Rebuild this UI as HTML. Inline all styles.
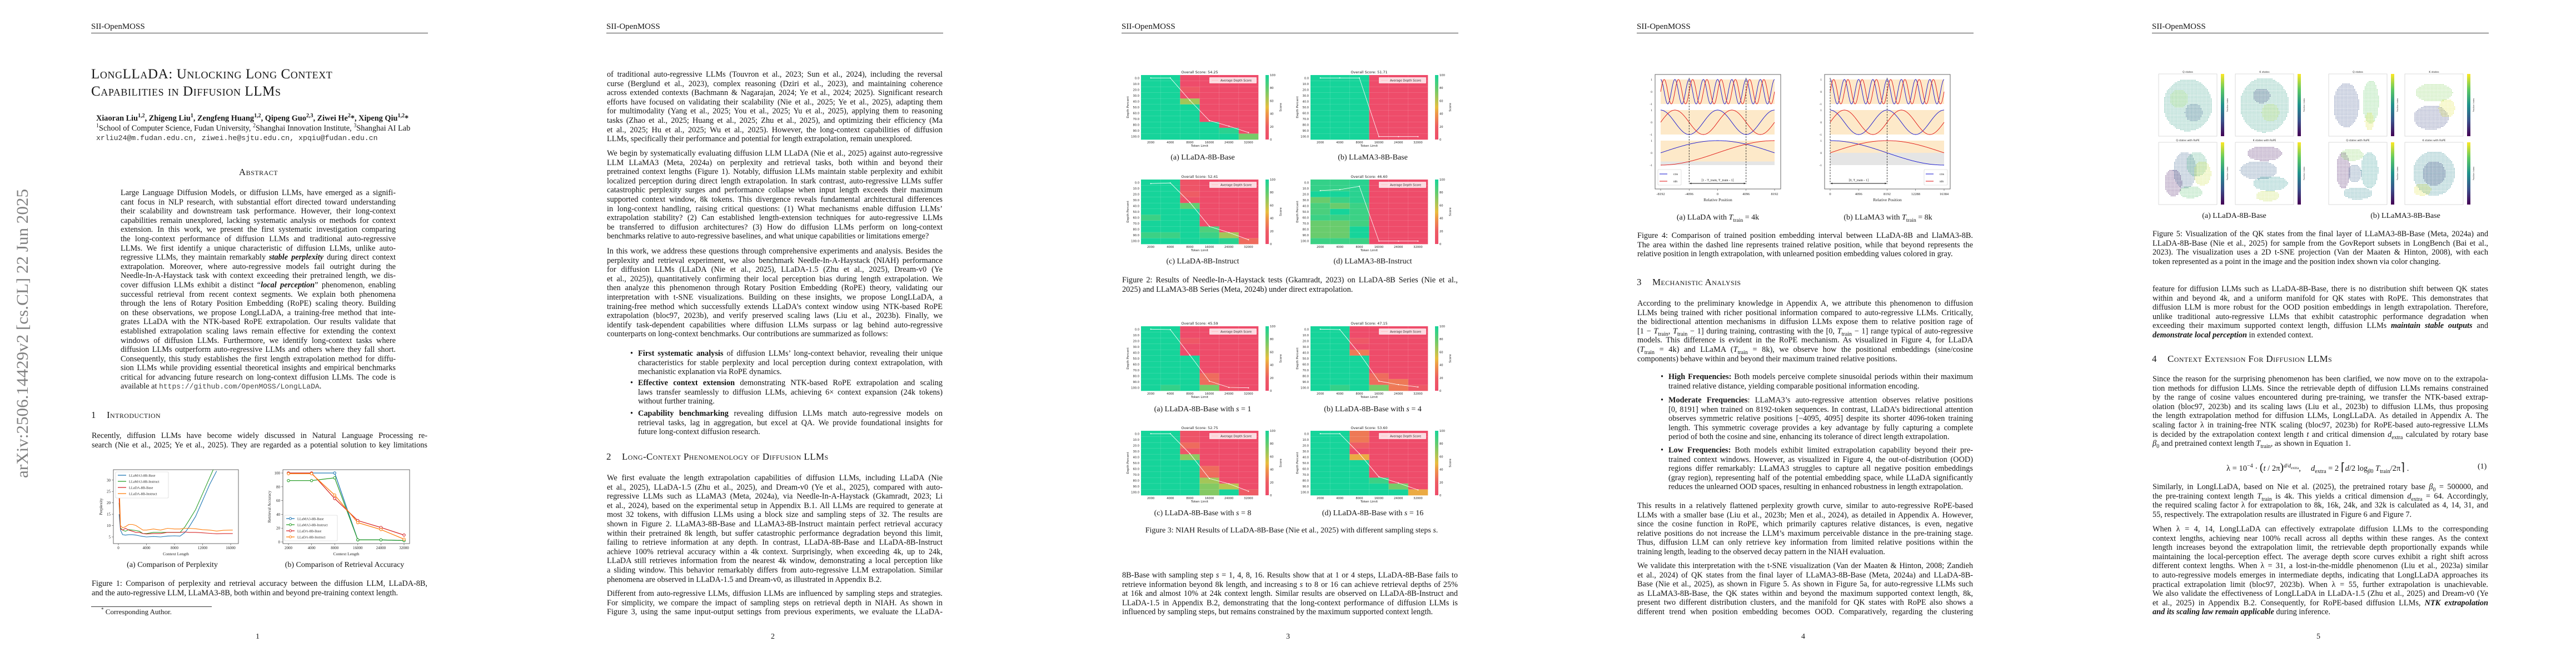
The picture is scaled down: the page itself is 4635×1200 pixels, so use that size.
<!DOCTYPE html>
<html><head><meta charset="utf-8">
<style>
body{margin:0;width:4635px;height:1200px;background:#fff;overflow:hidden;position:relative;font-family:"Liberation Serif",serif;color:#151515}
.pg{position:absolute;top:0;width:927px;height:1200px}
.hd{position:absolute;left:164px;top:40px;font-size:15px}
.rule{position:absolute;left:164px;top:59px;width:606px;height:1px;background:#444}
.pn{position:absolute;left:0;width:927px;top:1138px;text-align:center;font-size:14px}
.p{position:absolute;left:165px;width:604px;font-size:14.3px;line-height:16.6px}
.p div{height:16.6px;overflow:hidden;white-space:nowrap;text-align:justify;text-align-last:justify}
.p div.e{text-align-last:left}
.h{position:absolute;left:164px;font-size:17px;font-variant:small-caps;letter-spacing:.4px}
.h span{display:inline-block;width:28px}
.cap{position:absolute;font-size:14px;white-space:nowrap;transform:translateX(-50%)}
sub,sup{font-size:70%;line-height:0}
.b{font-weight:bold}
</style></head><body>
<svg id="charts" width="4635" height="1200" style="position:absolute;left:0;top:0" xmlns="http://www.w3.org/2000/svg">
<text transform="translate(50,600) rotate(-90)" text-anchor="middle" font-family="Liberation Serif, serif" font-size="30" fill="#808080" textLength="520" lengthAdjust="spacingAndGlyphs">arXiv:2506.14429v2  [cs.CL]  22 Jun 2025</text>
</svg>

<!-- PAGE 1 -->
<div class="pg" style="left:0">
<div class="hd">SII-OpenMOSS</div><div class="rule"></div>
<div style="position:absolute;left:164px;top:118px;font-size:25px;line-height:31px;font-variant:small-caps;letter-spacing:.6px">LongLLaDA: Unlocking Long Context<br>Capabilities in Diffusion LLMs</div>
<div class="b" style="position:absolute;left:173px;top:205px;font-size:14.3px;white-space:nowrap">Xiaoran Liu<sup>1,2</sup>, Zhigeng Liu<sup>1</sup>, Zengfeng Huang<sup>1,2</sup>, Qipeng Guo<sup>2,3</sup>, Ziwei He<sup>2</sup>*, Xipeng Qiu<sup>1,2</sup>*</div>
<div style="position:absolute;left:173px;top:223px;font-size:14.3px;white-space:nowrap"><sup>1</sup>School of Computer Science, Fudan University, <sup>2</sup>Shanghai Innovation Institute, <sup>3</sup>Shanghai AI Lab</div>
<div style="position:absolute;left:173px;top:241px;font-size:13.2px;font-family:'Liberation Mono',monospace;color:#333;white-space:nowrap">xrliu24@m.fudan.edu.cn, ziwei.he@sjtu.edu.cn, xpqiu@fudan.edu.cn</div>
<div style="position:absolute;left:0;width:930px;text-align:center;top:300px;font-size:17px;font-variant:small-caps;letter-spacing:.5px">Abstract</div>
<div class="p" style="left:217px;width:495px;top:339px">
<div>Large Language Diffusion Models, or diffusion LLMs, have emerged as a signifi-</div>
<div>cant focus in NLP research, with substantial effort directed toward understanding</div>
<div>their scalability and downstream task performance. However, their long-context</div>
<div>capabilities remain unexplored, lacking systematic analysis or methods for context</div>
<div>extension. In this work, we present the first systematic investigation comparing</div>
<div>the long-context performance of diffusion LLMs and traditional auto-regressive</div>
<div>LLMs. We first identify a unique characteristic of diffusion LLMs, unlike auto-</div>
<div>regressive LLMs, they maintain remarkably <b><i>stable perplexity</i></b> during direct context</div>
<div>extrapolation. Moreover, where auto-regressive models fail outright during the</div>
<div>Needle-In-A-Haystack task with context exceeding their pretrained length, we dis-</div>
<div>cover diffusion LLMs exhibit a distinct “<b><i>local perception</i></b>” phenomenon, enabling</div>
<div>successful retrieval from recent context segments. We explain both phenomena</div>
<div>through the lens of Rotary Position Embedding (RoPE) scaling theory. Building</div>
<div>on these observations, we propose LongLLaDA, a training-free method that inte-</div>
<div>grates LLaDA with the NTK-based RoPE extrapolation. Our results validate that</div>
<div>established extrapolation scaling laws remain effective for extending the context</div>
<div>windows of diffusion LLMs. Furthermore, we identify long-context tasks where</div>
<div>diffusion LLMs outperform auto-regressive LLMs and others where they fall short.</div>
<div>Consequently, this study establishes the first length extrapolation method for diffu-</div>
<div>sion LLMs while providing essential theoretical insights and empirical benchmarks</div>
<div>critical for advancing future research on long-context diffusion LLMs. The code is</div>
<div class="e">available at <span style="font-family:'Liberation Mono',monospace;font-size:13px;color:#444">https://github.com/OpenMOSS/LongLLaDA</span>.</div>
</div>
<div class="h" style="top:737px"><span>1</span>Introduction</div>
<div class="p" style="top:776px">
<div>Recently, diffusion LLMs have become widely discussed in Natural Language Processing re-</div>
<div>search (Nie et al., 2025; Ye et al., 2025). They are regarded as a potential solution to key limitations</div>
</div>
<div class="cap" style="left:310px;top:1009px">(a) Comparison of Perplexity</div>
<div class="cap" style="left:620px;top:1009px">(b) Comparison of Retrieval Accuracy</div>
<div class="p" style="top:1042px">
<div>Figure 1: Comparison of perplexity and retrieval accuracy between the diffusion LLM, LLaDA-8B,</div>
<div class="e">and the auto-regressive LLM, LLaMA3-8B, both within and beyond pre-training context length.</div>
</div>
<div style="position:absolute;left:164px;top:1091px;width:217px;height:1px;background:#333"></div>
<div style="position:absolute;left:182px;top:1093px;font-size:13px"><sup>*</sup> Corresponding Author.</div>
<div class="pn">1</div>
</div>

<!-- PAGE 2 -->
<div class="pg" style="left:927px">
<div class="hd">SII-OpenMOSS</div><div class="rule"></div>
<div class="p" style="top:126px">
<div>of traditional auto-regressive LLMs (Touvron et al., 2023; Sun et al., 2024), including the reversal</div>
<div>curse (Berglund et al., 2023), complex reasoning (Dziri et al., 2023), and maintaining coherence</div>
<div>across extended contexts (Bachmann &amp; Nagarajan, 2024; Ye et al., 2024; 2025). Significant research</div>
<div>efforts have focused on validating their scalability (Nie et al., 2025; Ye et al., 2025), adapting them</div>
<div>for multimodality (Yang et al., 2025; You et al., 2025; Yu et al., 2025), applying them to reasoning</div>
<div>tasks (Zhao et al., 2025; Huang et al., 2025; Zhu et al., 2025), and optimizing their efficiency (Ma</div>
<div>et al., 2025; Hu et al., 2025; Wu et al., 2025). However, the long-context capabilities of diffusion</div>
<div class="e">LLMs, specifically their performance and potential for length extrapolation, remain unexplored.</div>
</div>
<div class="p" style="top:268px">
<div>We begin by systematically evaluating diffusion LLM LLaDA (Nie et al., 2025) against auto-regressive</div>
<div>LLM LLaMA3 (Meta, 2024a) on perplexity and retrieval tasks, both within and beyond their</div>
<div>pretrained context lengths (Figure 1). Notably, diffusion LLMs maintain stable perplexity and exhibit</div>
<div>localized perception during direct length extrapolation. In stark contrast, auto-regressive LLMs suffer</div>
<div>catastrophic perplexity surges and performance collapse when input length exceeds their maximum</div>
<div>supported context window, 8k tokens. This divergence reveals fundamental architectural differences</div>
<div>in long-context handling, raising critical questions: (1) What mechanisms enable diffusion LLMs’</div>
<div>extrapolation stability? (2) Can established length-extension techniques for auto-regressive LLMs</div>
<div>be transferred to diffusion architectures? (3) How do diffusion LLMs perform on long-context</div>
<div class="e">benchmarks relative to auto-regressive baselines, and what unique capabilities or limitations emerge?</div>
</div>
<div class="p" style="top:444px">
<div>In this work, we address these questions through comprehensive experiments and analysis. Besides the</div>
<div>perplexity and retrieval experiment, we also benchmark Needle-In-A-Haystack (NIAH) performance</div>
<div>for diffusion LLMs (LLaDA (Nie et al., 2025), LLaDA-1.5 (Zhu et al., 2025), Dream-v0 (Ye</div>
<div>et al., 2025)), quantitatively confirming their local perception bias during length extrapolation. We</div>
<div>then analyze this phenomenon through Rotary Position Embedding (RoPE) theory, validating our</div>
<div>interpretation with t-SNE visualizations. Building on these insights, we propose LongLLaDA, a</div>
<div>training-free method which successfully extends LLaDA’s context window using NTK-based RoPE</div>
<div>extrapolation (bloc97, 2023b), and verify preserved scaling laws (Liu et al., 2023b). Finally, we</div>
<div>identify task-dependent capabilities where diffusion LLMs surpass or lag behind auto-regressive</div>
<div class="e">counterparts on long-context benchmarks. Our contributions are summarized as follows:</div>
</div>
<div class="p" style="left:221px;width:548px;top:628px">
<div><span style="position:absolute;margin-left:-14px">•</span><b>First systematic analysis</b> of diffusion LLMs’ long-context behavior, revealing their unique</div>
<div>characteristics for stable perplexity and local perception during context extrapolation, with</div>
<div class="e">mechanistic explanation via RoPE dynamics.</div>
</div>
<div class="p" style="left:221px;width:548px;top:681px">
<div><span style="position:absolute;margin-left:-14px">•</span><b>Effective context extension</b> demonstrating NTK-based RoPE extrapolation and scaling</div>
<div>laws transfer seamlessly to diffusion LLMs, achieving 6× context expansion (24k tokens)</div>
<div class="e">without further training.</div>
</div>
<div class="p" style="left:221px;width:548px;top:736px">
<div><span style="position:absolute;margin-left:-14px">•</span><b>Capability benchmarking</b> revealing diffusion LLMs match auto-regressive models on</div>
<div>retrieval tasks, lag in aggregation, but excel at QA. We provide foundational insights for</div>
<div class="e">future long-context diffusion research.</div>
</div>
<div class="h" style="top:812px"><span>2</span>Long-Context Phenomenology of Diffusion LLMs</div>
<div class="p" style="top:852px">
<div>We first evaluate the length extrapolation capabilities of diffusion LLMs, including LLaDA (Nie</div>
<div>et al., 2025), LLaDA-1.5 (Zhu et al., 2025), and Dream-v0 (Ye et al., 2025), compared with auto-</div>
<div>regressive LLMs such as LLaMA3 (Meta, 2024a), via Needle-In-A-Haystack (Gkamradt, 2023; Li</div>
<div>et al., 2024), based on the experimental setup in Appendix B.1. All LLMs are required to generate at</div>
<div>most 32 tokens, with diffusion LLMs using a block size and sampling steps of 32. The results are</div>
<div>shown in Figure 2. LLaMA3-8B-Base and LLaMA3-8B-Instruct maintain perfect retrieval accuracy</div>
<div>within their pretrained 8k length, but suffer catastrophic performance degradation beyond this limit,</div>
<div>failing to retrieve information at any depth. In contrast, LLaDA-8B-Base and LLaDA-8B-Instruct</div>
<div>achieve 100% retrieval accuracy within a 4k context. Surprisingly, when exceeding 4k, up to 24k,</div>
<div>LLaDA still retrieves information from the nearest 4k window, demonstrating a local perception like</div>
<div>a sliding window. This behavior remarkably differs from auto-regressive LLM extrapolation. Similar</div>
<div class="e">phenomena are observed in LLaDA-1.5 and Dream-v0, as illustrated in Appendix B.2.</div>
</div>
<div class="p" style="top:1060px">
<div>Different from auto-regressive LLMs, diffusion LLMs are influenced by sampling steps and strategies.</div>
<div>For simplicity, we compare the impact of sampling steps on retrieval depth in NIAH. As shown in</div>
<div>Figure 3, using the same input-output settings from previous experiments, we evaluate the LLaDA-</div>
</div>
<div class="pn">2</div>
</div>

<!-- PAGE 3 -->
<div class="pg" style="left:1854px">
<div class="hd">SII-OpenMOSS</div><div class="rule"></div>
<div class="cap" style="left:310px;top:276px">(a) LLaDA-8B-Base</div>
<div class="cap" style="left:616px;top:276px">(b) LLaMA3-8B-Base</div>
<div class="cap" style="left:310px;top:463px">(c) LLaDA-8B-Instruct</div>
<div class="cap" style="left:616px;top:463px">(d) LLaMA3-8B-Instruct</div>
<div class="p" style="top:496px">
<div>Figure 2: Results of Needle-In-A-Haystack tests (Gkamradt, 2023) on LLaDA-8B Series (Nie et al.,</div>
<div class="e">2025) and LLaMA3-8B Series (Meta, 2024b) under direct extrapolation.</div>
</div>
<div class="cap" style="left:310px;top:729px">(a) LLaDA-8B-Base with <i>s</i> = 1</div>
<div class="cap" style="left:616px;top:729px">(b) LLaDA-8B-Base with <i>s</i> = 4</div>
<div class="cap" style="left:310px;top:916px">(c) LLaDA-8B-Base with <i>s</i> = 8</div>
<div class="cap" style="left:616px;top:916px">(d) LLaDA-8B-Base with <i>s</i> = 16</div>
<div class="cap" style="left:470px;top:947px">Figure 3: NIAH Results of LLaDA-8B-Base (Nie et al., 2025) with different sampling steps <i>s</i>.</div>
<div class="p" style="top:1027px">
<div>8B-Base with sampling step <i>s</i> = 1, 4, 8, 16. Results show that at 1 or 4 steps, LLaDA-8B-Base fails to</div>
<div>retrieve information beyond 8k length, and increasing <i>s</i> to 8 or 16 can achieve retrieval depths of 25%</div>
<div>at 16k and almost 10% at 24k context length. Similar results are observed on LLaDA-8B-Instruct and</div>
<div>LLaDA-1.5 in Appendix B.2, demonstrating that the long-context performance of diffusion LLMs is</div>
<div class="e">influenced by sampling steps, but remains constrained by the maximum supported context length.</div>
</div>
<div class="pn">3</div>
</div>

<!-- PAGE 4 -->
<div class="pg" style="left:2781px">
<div class="hd">SII-OpenMOSS</div><div class="rule"></div>
<div class="cap" style="left:310px;top:384px">(a) LLaDA with <i>T</i><sub>train</sub> = 4k</div>
<div class="cap" style="left:616px;top:384px">(b) LLaMA3 with <i>T</i><sub>train</sub> = 8k</div>
<div class="p" style="top:416px">
<div>Figure 4: Comparison of trained position embedding interval between LLaDA-8B and LlaMA3-8B.</div>
<div>The area within the dashed line represents trained relative position, while that beyond represents the</div>
<div class="e">relative position in length extrapolation, with unlearned position embedding values colored in gray.</div>
</div>
<div class="h" style="top:498px"><span>3</span>Mechanistic Analysis</div>
<div class="p" style="top:538px">
<div>According to the preliminary knowledge in Appendix A, we attribute this phenomenon to diffusion</div>
<div>LLMs being trained with richer positional information compared to auto-regressive LLMs. Critically,</div>
<div>the bidirectional attention mechanisms in diffusion LLMs expose them to relative position rage of</div>
<div>[1 − <i>T</i><sub>train</sub>, <i>T</i><sub>train</sub> − 1] during training, contrasting with the [0, <i>T</i><sub>train</sub> − 1] range typical of auto-regressive</div>
<div>models. This difference is evident in the RoPE mechanism. As visualized in Figure 4, for LLaDA</div>
<div>(<i>T</i><sub>train</sub> = 4k) and LLaMA (<i>T</i><sub>train</sub> = 8k), we observe how the positional embeddings (sine/cosine</div>
<div class="e">components) behave within and beyond their maximum trained relative positions.</div>
</div>
<div class="p" style="left:221px;width:548px;top:670px">
<div><span style="position:absolute;margin-left:-14px">•</span><b>High Frequencies:</b> Both models perceive complete sinusoidal periods within their maximum</div>
<div class="e">trained relative distance, yielding comparable positional information encoding.</div>
</div>
<div class="p" style="left:221px;width:548px;top:712px">
<div><span style="position:absolute;margin-left:-14px">•</span><b>Moderate Frequencies</b>: LLaMA3’s auto-regressive attention observes relative positions</div>
<div>[0, 8191] when trained on 8192-token sequences. In contrast, LLaDA’s bidirectional attention</div>
<div>observes symmetric relative positions [−4095, 4095] despite its shorter 4096-token training</div>
<div>length. This symmetric coverage provides a key advantage by fully capturing a complete</div>
<div class="e">period of both the cosine and sine, enhancing its tolerance of direct length extrapolation.</div>
</div>
<div class="p" style="left:221px;width:548px;top:802px">
<div><span style="position:absolute;margin-left:-14px">•</span><b>Low Frequencies:</b> Both models exhibit limited extrapolation capability beyond their pre-</div>
<div>trained context windows. However, as visualized in Figure 4, the out-of-distribution (OOD)</div>
<div>regions differ remarkably: LLaMA3 struggles to capture all negative position embeddings</div>
<div>(gray region), representing half of the potential embedding space, while LLaDA significantly</div>
<div class="e">reduces the unlearned OOD spaces, resulting in enhanced robustness in length extrapolation.</div>
</div>
<div class="p" style="top:902px">
<div>This results in a relatively flattened perplexity growth curve, similar to auto-regressive RoPE-based</div>
<div>LLMs with a smaller base (Liu et al., 2023b; Men et al., 2024), as detailed in Appendix A. However,</div>
<div>since the cosine function in RoPE, which primarily captures relative distances, is even, negative</div>
<div>relative positions do not increase the LLM’s maximum perceivable distance in the pre-training stage.</div>
<div>Thus, diffusion LLM can only retrieve key information from limited relative positions within the</div>
<div class="e">training length, leading to the observed decay pattern in the NIAH evaluation.</div>
</div>
<div class="p" style="top:1010px">
<div>We validate this interpretation with the t-SNE visualization (Van der Maaten &amp; Hinton, 2008; Zandieh</div>
<div>et al., 2024) of QK states from the final layer of LLaMA3-8B-Base (Meta, 2024a) and LLaDA-8B-</div>
<div>Base (Nie et al., 2025), as shown in Figure 5. As shown in Figure 5a, for auto-regressive LLMs such</div>
<div>as LLaMA3-8B-Base, the QK states within and beyond the maximum supported context length, 8k,</div>
<div>present two different distribution clusters, and the manifold for QK states with RoPE also shows a</div>
<div>different trend when position embedding becomes OOD. Comparatively, regarding the clustering</div>
</div>
<div class="pn">4</div>
</div>

<!-- PAGE 5 -->
<div class="pg" style="left:3708px">
<div class="hd">SII-OpenMOSS</div><div class="rule"></div>
<div class="cap" style="left:312px;top:381px">(a) LLaDA-8B-Base</div>
<div class="cap" style="left:620px;top:381px">(b) LLaMA3-8B-Base</div>
<div class="p" style="top:413px">
<div>Figure 5: Visualization of the QK states from the final layer of LLaMA3-8B-Base (Meta, 2024a) and</div>
<div>LLaDA-8B-Base (Nie et al., 2025) for sample from the GovReport subsets in LongBench (Bai et al.,</div>
<div>2023). The visualization uses a 2D t-SNE projection (Van der Maaten &amp; Hinton, 2008), with each</div>
<div class="e">token represented as a point in the image and the position index shown via color changing.</div>
</div>
<div class="p" style="top:512px">
<div>feature for diffusion LLMs such as LLaDA-8B-Base, there is no distribution shift between QK states</div>
<div>within and beyond 4k, and a uniform manifold for QK states with RoPE. This demonstrates that</div>
<div>diffusion LLM is more robust for the OOD position embeddings in length extrapolation. Therefore,</div>
<div>unlike traditional auto-regressive LLMs that exhibit catastrophic performance degradation when</div>
<div>exceeding their maximum supported context length, diffusion LLMs <b><i>maintain stable outputs</i></b> and</div>
<div class="e"><b><i>demonstrate local perception</i></b> in extended context.</div>
</div>
<div class="h" style="top:636px"><span>4</span>Context Extension For Diffusion LLMs</div>
<div class="p" style="top:674px">
<div>Since the reason for the surprising phenomenon has been clarified, we now move on to the extrapola-</div>
<div>tion methods for diffusion LLMs. Since the retrievable depth of diffusion LLMs remains constrained</div>
<div>by the range of cosine values encountered during pre-training, we transfer the NTK-based extrap-</div>
<div>olation (bloc97, 2023b) and its scaling laws (Liu et al., 2023b) to diffusion LLMs, thus proposing</div>
<div>the length extrapolation method for diffusion LLMs, LongLLaDA. As detailed in Appendix A. The</div>
<div>scaling factor λ in training-free NTK scaling (bloc97, 2023b) for RoPE-based auto-regressive LLMs</div>
<div>is decided by the extrapolation context length <i>t</i> and critical dimension <i>d</i><sub>extra</sub> calculated by rotary base</div>
<div class="e"><i>β</i><sub>0</sub> and pretrained context length <i>T</i><sub>train</sub>, as shown in Equation 1.</div>
</div>
<div style="position:absolute;left:298px;top:828px;font-size:14.5px;white-space:nowrap">λ = 10<sup>−4</sup> · <span style="font-size:20px">(</span><i>t</i> / 2π<span style="font-size:20px">)</span><sup><i>d</i>/<i>d</i><sub>extra</sub></sup>, &nbsp;&nbsp;&nbsp; <i>d</i><sub>extra</sub> = 2 <span style="font-size:20px">⌈</span><i>d</i>/2 log<sub><i>β</i>0</sub> <i>T</i><sub>train</sub>/2π<span style="font-size:20px">⌉</span> .</div>
<div style="position:absolute;left:750px;top:832px;font-size:14px">(1)</div>
<div class="p" style="top:868px">
<div>Similarly, in LongLLaDA, based on Nie et al. (2025), the pretrained rotary base <i>β</i><sub>0</sub> = 500000, and</div>
<div>the pre-training context length <i>T</i><sub>train</sub> is 4k. This yields a critical dimension <i>d</i><sub>extra</sub> = 64. Accordingly,</div>
<div>the required scaling factor λ for extrapolation to 8k, 16k, 24k, and 32k is calculated as 4, 14, 31, and</div>
<div class="e">55, respectively. The extrapolation results are illustrated in Figure 6 and Figure 7.</div>
</div>
<div class="p" style="top:944px">
<div>When λ = 4, 14, LongLLaDA can effectively extrapolate diffusion LLMs to the corresponding</div>
<div>context lengths, achieving near 100% recall across all depths within these ranges. As the context</div>
<div>length increases beyond the extrapolation limit, the retrievable depth proportionally expands while</div>
<div>maintaining the local-perception effect. The average depth score curves exhibit a right shift across</div>
<div>different context lengths. When λ = 31, a lost-in-the-middle phenomenon (Liu et al., 2023a) similar</div>
<div>to auto-regressive models emerges in intermediate depths, indicating that LongLLaDA approaches its</div>
<div>practical extrapolation limit (bloc97, 2023b). When λ = 55, further extrapolation is unachievable.</div>
<div>We also validate the effectiveness of LongLLaDA in LLaDA-1.5 (Zhu et al., 2025) and Dream-v0 (Ye</div>
<div>et al., 2025) in Appendix B.2. Consequently, for RoPE-based diffusion LLMs, <b><i>NTK extrapolation</i></b></div>
<div class="e"><b><i>and its scaling law remain applicable</i></b> during inference.</div>
</div>
<div class="pn">5</div>
</div>

<script>
// ---------- DATA ----------
const pplX = [100,300,600,1000,1500,2000,2500,3000,3500,4000,5000,6000,7000,8000,8800,9500,10000,11000,12000,13000,14000,15000,16000,16300];
const pplLlamaBase = [15,8,6,5.8,6,6,5.8,5.5,5.2,5,5.2,5,5.4,5.5,5.4,7,9,14,21,28,34,null,null,null];
const pplLlamaInstruct = [20,9,8,7.5,8.2,8,7.8,7.5,6.5,6.5,7,7,7,7,7,9.5,12,17,24,31,38,null,null,null];
const pplLladaBase = [22,8.5,8,8.8,8,7.5,7,7,6.5,6.3,6.5,6.5,7,7,7,7.2,7,7,6.8,6.6,6.4,6.5,6.5,6.5];
const pplLladaInstruct = [31,10,9,9.5,10.5,10.5,10,9,8,8,8.5,8,8.8,8.5,8.5,8.8,8.8,8.6,8.2,8,7.6,7.9,8,8];
const pplYTicks = [5,10,15,20,25,30];
const pplXTicks = [0,4000,8000,12000,16000];

const retCats = ['2000','4000','8000','16000','24000','32000'];
const retLlamaBase = [100,100,100,3,3,2];
const retLlamaInstruct = [89,89,93,3,3,2];
const retLladaBase = [100,100,63,31,21,10];
const retLladaInstruct = [99,99,68,28,18,4];
const retYTicks = [0,20,40,60,80,100];

const seriesNames = ['LLaMA3-8B-Base','LLaMA3-8B-Instruct','LLaDA-8B-Base','LLaDA-8B-Instruct'];

const hmCols = ['2000','4000','8000','16000','24000','32000'];
const hmRows = ['0.0','10.0','20.0','30.0','40.0','50.0','60.0','70.0','80.0','90.0','100.0'];
const hmScores = ['54.25','51.71','52.41','46.60','45.59','47.15','52.75','53.60'];
// each matrix: columns (token limit) of rows (depth 0..100)
const hmF2a = [[100,100,100,100,100,100,100,100,100,100,100],[100,100,100,100,100,100,100,100,100,100,100],[0,0,15,0,65,100,100,100,100,100,100],[0,0,0,0,0,0,0,0,100,100,100],[0,0,0,0,0,0,0,0,0,95,100],[0,0,0,0,0,0,0,0,0,0,75]];
const hmF2b = [[100,100,100,100,100,100,100,100,100,100,100],[100,100,100,100,100,100,100,100,100,100,100],[100,100,100,100,100,100,100,100,100,100,100],[0,0,0,0,0,0,0,0,0,0,0],[0,0,0,0,0,0,0,0,0,0,0],[0,0,0,0,0,0,0,0,0,0,0]];
const hmF2c = [[100,100,100,100,100,100,90,100,100,90,100],[100,100,100,100,100,100,100,100,100,90,100],[10,10,20,5,80,100,100,100,100,100,100],[0,0,0,0,0,0,0,0,85,90,100],[0,0,0,0,0,0,0,0,0,65,95],[0,0,0,0,0,0,0,0,0,0,25]];
const hmF2d = [[92,92,100,78,86,86,90,78,78,78,90],[92,92,100,90,78,100,90,78,78,78,90],[95,95,95,95,90,90,90,88,100,100,90],[0,0,0,0,0,0,0,0,0,0,0],[0,0,0,0,0,0,0,0,0,0,0],[0,0,0,0,0,0,0,0,0,0,0]];
const hmF3a = [[100,100,100,100,100,100,100,100,100,100,100],[100,100,100,100,100,100,100,100,100,100,92],[0,0,15,0,0,100,100,100,100,100,100],[0,0,0,0,0,0,0,0,25,25,75],[0,0,0,0,0,0,0,0,0,0,8],[0,0,0,0,0,0,0,0,0,0,0]];
const hmF3b = [[100,100,100,100,100,100,100,100,100,100,100],[100,100,100,100,100,100,100,100,100,100,92],[0,0,15,0,30,100,100,100,100,100,100],[0,0,0,0,0,0,0,0,25,25,75],[0,0,0,0,0,0,0,0,0,30,30],[0,0,0,0,0,0,0,0,0,0,15]];
const hmF3c = [[100,100,100,100,100,100,100,100,100,100,100],[100,100,100,100,100,100,100,100,100,100,100],[10,10,25,10,70,100,100,100,100,100,100],[0,0,0,0,0,0,25,25,65,72,72],[0,0,0,0,0,0,0,0,0,60,100],[0,0,0,0,0,0,0,0,0,0,20]];
const hmF3d = [[100,100,100,100,100,100,100,100,100,100,100],[100,100,100,100,100,100,100,100,100,100,100],[30,30,20,0,45,100,100,100,100,100,100],[0,0,0,0,0,0,0,0,90,100,100],[0,0,0,0,0,0,0,0,0,75,100],[0,0,0,0,0,0,0,0,0,0,45]];

const sinPeriods = [2048, 8192, 32768];
const sinLeftRange = [-8192, 8192];
const sinRightRange = [0, 16384];
const sinLeftTrain = [-4096, 4096];
const sinRightTrain = [0, 8192];
const sinLeftGrayTop = [null, null, -0.707];
const sinRightGrayTop = [null, null, 0];
const sinLeftTicks = [-8192,-4096,0,4096,8192];
const sinRightTicks = [0,4096,8192,12288,16384];

const tsneLladaQ = [[.5,.5,.42,.42,.55],[.35,.4,.16,.15,.8],[.6,.62,.15,.15,.3]];
const tsneLladaK = [[.5,.5,.42,.44,.55],[.45,.35,.15,.12,.2],[.6,.62,.15,.15,.85]];
const tsneLladaQRope = [[.25,.65,.15,.22,.05],[.45,.45,.2,.3,.3],[.65,.35,.18,.2,.6],[.75,.5,.15,.2,.92],[.55,.8,.2,.1,.7]];
const tsneLladaKRope = [[.5,.18,.3,.12,.05],[.4,.45,.32,.15,.3],[.6,.66,.3,.12,.5],[.55,.86,.2,.09,.9]];
const tsneLlamaQ = [[.3,.5,.22,.36,.25],[.72,.45,.14,.35,.75],[.7,.76,.08,.15,.95]];
const tsneLlamaK = [[.45,.7,.3,.2,.22],[.5,.3,.32,.15,.8],[.72,.55,.14,.15,.95]];
const tsneLlamaQRope = [[.25,.45,.12,.3,.05],[.4,.2,.2,.1,.8],[.7,.45,.15,.3,.5],[.5,.82,.25,.1,.45],[.45,.5,.12,.15,.3]];
const tsneLlamaKRope = [[.5,.5,.36,.36,.45],[.5,.5,.2,.2,.2],[.3,.76,.15,.1,.95]];

// ---------- HELPERS ----------
const NS = 'http://www.w3.org/2000/svg';
const root = document.getElementById('charts');
function mk(tag, attrs, parent){ const e=document.createElementNS(NS,tag); for(const k in attrs) e.setAttribute(k,attrs[k]); (parent||root).appendChild(e); return e; }
function tx(x,y,s,size,extra,parent){ const t=mk('text',Object.assign({x:x,y:y,'font-size':size,'font-family':'Liberation Serif, serif',fill:'#222'},extra||{}),parent); t.textContent=s; return t; }
function lerp(a,b,t){return a+(b-a)*t;}
const seriesColors = ['#1f77b4','#2ca02c','#d62728','#ff7f0e'];

// ---------- FIG 1a PERPLEXITY ----------
(function(){
  const g = mk('g',{});
  
  
  const L=204,R=429,T=845,B=978;
  const xs=v=>213+(v/16000)*(415-213);
  const ys=v=>966-(v-5)*4.09;
  mk('defs',{},g).innerHTML='<clipPath id="pplclip"><rect x="'+L+'" y="'+T+'" width="'+(R-L)+'" height="'+(B-T)+'"/></clipPath>';
  mk('rect',{x:L,y:T,width:R-L,height:B-T,fill:'#fff',stroke:'#444','stroke-width':0.8},g);
  pplYTicks.forEach(v=>{ mk('line',{x1:L-3,x2:L,y1:ys(v),y2:ys(v),stroke:'#444','stroke-width':.6},g); tx(L-5,ys(v)+2.5,String(v),7,{'text-anchor':'end'},g); });
  pplXTicks.forEach(v=>{ mk('line',{x1:xs(v),x2:xs(v),y1:B,y2:B+3,stroke:'#444','stroke-width':.6},g); tx(xs(v),B+10,String(v),7,{'text-anchor':'middle'},g); });
  tx((L+R)/2,B+21,'Context Length',7.5,{'text-anchor':'middle'},g);
  tx(0,0,'Perplexity',7.5,{'text-anchor':'middle',transform:'translate('+(L-20)+','+((T+B)/2)+') rotate(-90)'},g);
  const all=[pplLlamaBase,pplLlamaInstruct,pplLladaBase,pplLladaInstruct];
  const cg = mk('g',{'clip-path':'url(#pplclip)'},g);
  all.forEach((s,i)=>{
    let d=''; let started=false;
    s.forEach((v,j)=>{ if(v===null) return; d+=(started?'L':'M')+xs(pplX[j]).toFixed(1)+','+ys(v).toFixed(1); started=true; });
    const p=mk('path',{d:d,fill:'none',stroke:seriesColors[i],'stroke-width':1.1},cg);
    
    
  });
  const lg=mk('g',{},g);
  
  
  mk('rect',{x:208,y:849,width:95,height:47,fill:'#fff',stroke:'#ccc','stroke-width':.6,rx:1.5},lg);
  seriesNames.forEach((n,i)=>{ const y=855+i*11; mk('line',{x1:212,x2:227,y1:y,y2:y,stroke:seriesColors[i],'stroke-width':1.3},lg); tx(232,y+2.5,n,6.3,{},lg); });
})();

// ---------- FIG 1b RETRIEVAL ----------
(function(){
  const g=mk('g',{});
  
  
  const L=509,R=737,T=845,B=978;
  const xs=i=>519+i*((727-519)/(retCats.length-1));
  const ys=v=>975-v*1.24;
  mk('rect',{x:L,y:T,width:R-L,height:B-T,fill:'#fff',stroke:'#444','stroke-width':.8},g);
  retYTicks.forEach(v=>{ mk('line',{x1:L-3,x2:L,y1:ys(v),y2:ys(v),stroke:'#444','stroke-width':.6},g); tx(L-5,ys(v)+2.5,String(v),7,{'text-anchor':'end'},g); });
  retCats.forEach((c,i)=>{ mk('line',{x1:xs(i),x2:xs(i),y1:B,y2:B+3,stroke:'#444','stroke-width':.6},g); tx(xs(i),B+10,c,7,{'text-anchor':'middle'},g); });
  tx((L+R)/2,B+21,'Context Length',7.5,{'text-anchor':'middle'},g);
  tx(0,0,'Retrieval Accuracy',7.5,{'text-anchor':'middle',transform:'translate('+(L-22)+','+((T+B)/2)+') rotate(-90)'},g);
  [retLlamaBase,retLlamaInstruct,retLladaBase,retLladaInstruct].forEach((s,i)=>{
    const p=mk('path',{d:s.map((v,j)=>(j?'L':'M')+xs(j).toFixed(1)+','+ys(v).toFixed(1)).join(''),fill:'none',stroke:seriesColors[i],'stroke-width':1.3},g);
    
    
    s.forEach((v,j)=>{ const c=mk('circle',{cx:xs(j),cy:ys(v),r:2.2,fill:'#fff',stroke:seriesColors[i],'stroke-width':1.1},g);
      
       });
  });
  const lg=mk('g',{},g);
  
  
  mk('rect',{x:512,y:927,width:95,height:46,fill:'#fff',stroke:'#ccc','stroke-width':.6,rx:1.5},lg);
  seriesNames.forEach((n,i)=>{ const y=933+i*11; mk('line',{x1:515,x2:530,y1:y,y2:y,stroke:seriesColors[i],'stroke-width':1.3},lg); mk('circle',{cx:522.5,cy:y,r:2,fill:'#fff',stroke:seriesColors[i],'stroke-width':1},lg); tx(535,y+2.5,n,6.3,{},lg); });
})();

// ---------- HEATMAPS ----------
const hmStops=[[0,[238,76,106]],[20,[238,92,100]],[40,[238,150,72]],[50,[232,190,62]],[60,[185,196,80]],[80,[96,205,112]],[100,[22,212,154]]];
function hmColor(v){
  for(let i=1;i<hmStops.length;i++){ if(v<=hmStops[i][0]){ const a=hmStops[i-1],b=hmStops[i]; const t=(v-a[0])/(b[0]-a[0]); return 'rgb('+a[1].map((c,k)=>Math.round(lerp(c,b[1][k],t))).join(',')+')'; } }
  return 'rgb(22,212,154)';
}
(function(){
  const defs=mk('defs',{});
  const lg=mk('linearGradient',{id:'hmgrad',x1:0,y1:1,x2:0,y2:0},defs);
  hmStops.forEach(s=>mk('stop',{offset:(s[0])+'%','stop-color':'rgb('+s[1].join(',')+')'},lg));
})();
function drawHeatmap(mat, score, ox, oy, name){
  const W=211,H=116;
  const g=mk('g',{});
  
  
  const cw=W/hmCols.length, rh=H/hmRows.length;
  tx(ox+W/2,oy-3,'Overall Score: '+score,6.5,{'text-anchor':'middle','font-family':'DejaVu Sans, sans-serif'},g);
  mat.forEach((col,ci)=>col.forEach((v,ri)=>{
    const r=mk('rect',{x:ox+ci*cw,y:oy+ri*rh,width:cw+.3,height:rh+.3,fill:hmColor(v)},g);
    
    
  }));
  for(let i=1;i<hmCols.length;i++) mk('line',{x1:ox+i*cw,x2:ox+i*cw,y1:oy,y2:oy+H,stroke:'#fff','stroke-opacity':.25,'stroke-width':.5},g);
  for(let i=1;i<hmRows.length;i++) mk('line',{x1:ox,x2:ox+W,y1:oy+i*rh,y2:oy+i*rh,stroke:'#fff','stroke-opacity':.25,'stroke-width':.5},g);
  hmRows.forEach((r,i)=>tx(ox-3,oy+(i+.5)*rh+2,r,5.2,{'text-anchor':'end','font-family':'DejaVu Sans, sans-serif'},g));
  hmCols.forEach((c,i)=>tx(ox+(i+.5)*cw,oy+H+7,c,5.2,{'text-anchor':'middle','font-family':'DejaVu Sans, sans-serif'},g));
  tx(ox+W/2,oy+H+13,'Token Limit',5.5,{'text-anchor':'middle','font-family':'DejaVu Sans, sans-serif'},g);
  tx(0,0,'Depth Percent',5.5,{'text-anchor':'middle','font-family':'DejaVu Sans, sans-serif',transform:'translate('+(ox-22)+','+(oy+H/2)+') rotate(-90)'},g);
  // average depth line
  const pts=mat.map((col,ci)=>{ const avg=col.reduce((a,b)=>a+b,0)/col.length; const depth=100-avg; return [ox+(ci+.5)*cw, oy+rh/2+depth/100*(H-rh)]; });
  const pl=mk('path',{d:pts.map((p,i)=>(i?'L':'M')+p[0].toFixed(1)+','+p[1].toFixed(1)).join(''),fill:'none',stroke:'#fff','stroke-width':.8},g);
  
  
  pts.forEach(p=>mk('circle',{cx:p[0],cy:p[1],r:1,fill:'#fff'},g));
  mk('rect',{x:ox+W-88,y:oy+4,width:85,height:11,fill:'#fff','fill-opacity':.8,rx:1},g);
  mk('line',{x1:ox+W-84,x2:ox+W-72,y1:oy+9.5,y2:oy+9.5,stroke:'#fbb','stroke-width':.8},g);
  tx(ox+W-68,oy+11.5,'Average Depth Score',5.3,{'font-family':'DejaVu Sans, sans-serif'},g);
  // colorbar
  const cb=mk('rect',{x:ox+224,y:oy,width:6,height:H,fill:'url(#hmgrad)'},g);
  
  
  [0,20,40,60,80,100].forEach(v=>tx(ox+232,oy+H-v/100*H+2,String(v),5.2,{'font-family':'DejaVu Sans, sans-serif'},g));
  tx(0,0,'Score',5.5,{'text-anchor':'middle','font-family':'DejaVu Sans, sans-serif',transform:'translate('+(ox+253)+','+(oy+H/2)+') rotate(-90)'},g);
}
const P3=1854;
drawHeatmap(hmF2a,hmScores[0],P3+199,135,'niah-heatmap-2a');
drawHeatmap(hmF2b,hmScores[1],P3+504,135,'niah-heatmap-2b');
drawHeatmap(hmF2c,hmScores[2],P3+199,323,'niah-heatmap-2c');
drawHeatmap(hmF2d,hmScores[3],P3+504,323,'niah-heatmap-2d');
drawHeatmap(hmF3a,hmScores[4],P3+199,587,'niah-heatmap-3a');
drawHeatmap(hmF3b,hmScores[5],P3+504,587,'niah-heatmap-3b');
drawHeatmap(hmF3c,hmScores[6],P3+199,775,'niah-heatmap-3c');
drawHeatmap(hmF3d,hmScores[7],P3+504,775,'niah-heatmap-3d');

// ---------- FIG 4 SINUSOIDS ----------
function drawSin(ox, range, train, grayTop, ticks, legendRight, label, name){
  const g=mk('g',{});
  
  
  const L=ox, R=ox+226, T=134, B=340;
  const iL=ox+10, iR=ox+215;
  const xs=v=>iL+(v-range[0])/(range[1]-range[0])*(iR-iL);
  const bands=[[143,187],[198,242],[253,297]];
  mk('rect',{x:L,y:T,width:R-L,height:B-T,fill:'#fff',stroke:'#555','stroke-width':.9},g);
  bands.forEach((b,bi)=>{
    const yv=v=>b[0]+(1-v)/2*(b[1]-b[0]);
    mk('rect',{x:iL,y:b[0],width:iR-iL,height:b[1]-b[0],fill:'#fde9c9'},g);
    if(grayTop[bi]!==null) mk('rect',{x:iL,y:yv(grayTop[bi]),width:iR-iL,height:b[1]-yv(grayTop[bi]),fill:'#e5e5e5'},g);
    [1,0,-1].forEach(v=>tx(L-5,yv(v)+2,String(v),5.5,{'text-anchor':'end'},g));
    const per=sinPeriods[bi];
    let dc='',ds='';
    for(let k=0;k<=400;k++){ const x=range[0]+(range[1]-range[0])*k/400; const a=2*Math.PI*x/per;
      dc+=(k?'L':'M')+xs(x).toFixed(2)+','+yv(Math.cos(a)).toFixed(2);
      ds+=(k?'L':'M')+xs(x).toFixed(2)+','+yv(Math.sin(a)).toFixed(2); }
    const c=mk('path',{d:dc,fill:'none',stroke:'#1010d0','stroke-width':.9},g);
    
    
    const s=mk('path',{d:ds,fill:'none',stroke:'#e01010','stroke-width':.9},g);
    
    
  });
  train.forEach(v=>mk('line',{x1:xs(v),x2:xs(v),y1:140,y2:331,stroke:'#111','stroke-width':.8,'stroke-dasharray':'3,2'},g));
  mk('line',{x1:xs(train[0])+1,x2:xs(train[1])-1,y1:330,y2:330,stroke:'#111','stroke-width':1},g);
  mk('path',{d:'M'+(xs(train[0])+1)+',330l3,-1.5v3z M'+(xs(train[1])-1)+',330l-3,-1.5v3z',fill:'#111'},g);
  tx((xs(train[0])+xs(train[1]))/2,326,label,6,{'text-anchor':'middle'},g);
  const lx = legendRight ? R-47 : L+5;
  mk('rect',{x:lx,y:305,width:42,height:28,fill:'#fff',stroke:'#ccc','stroke-width':.6,rx:1.5},g);
  mk('line',{x1:lx+3,x2:lx+17,y1:313,y2:313,stroke:'#1010d0','stroke-width':1},g); tx(lx+28,315,'cos',6,{},g);
  mk('line',{x1:lx+3,x2:lx+17,y1:326,y2:326,stroke:'#e01010','stroke-width':1},g); tx(lx+28,328,'sin',6,{},g);
  ticks.forEach(v=>{ mk('line',{x1:xs(v),x2:xs(v),y1:B,y2:B+3,stroke:'#444','stroke-width':.6},g); tx(xs(v),B+11,String(v),6.5,{'text-anchor':'middle'},g); });
  tx((L+R)/2,362,'Relative Position',7.5,{'text-anchor':'middle'},g);
}
const P4=2781;
drawSin(P4+197,sinLeftRange,sinLeftTrain,sinLeftGrayTop,sinLeftTicks,false,'[1 - T_train, T_train - 1]','rope-plot-llada');
drawSin(P4+502,sinRightRange,sinRightTrain,sinRightGrayTop,sinRightTicks,true,'[0, T_train - 1]','rope-plot-llama3');

// ---------- FIG 5 t-SNE ----------
const viridis=[[68,1,84],[59,82,139],[33,145,140],[94,201,98],[253,231,37]];
function vir(t){ const f=t*4; const i=Math.min(3,Math.floor(f)); const u=f-i; return 'rgb('+viridis[i].map((c,k)=>Math.round(lerp(c,viridis[i+1][k],u))).join(',')+')'; }
(function(){
  const defs=mk('defs',{});
  const lg=mk('linearGradient',{id:'virgrad',x1:0,y1:1,x2:0,y2:0},defs);
  viridis.forEach((c,i)=>mk('stop',{offset:(i*25)+'%','stop-color':'rgb('+c.join(',')+')'},lg));
})();
function drawTsne(blobs, ox, oy, title, name){
  const W=105,H=112;
  const g=mk('g',{});
  
  
  mk('rect',{x:ox,y:oy,width:W,height:H,fill:'#fff',stroke:'#ccc','stroke-width':.7},g);
  tx(ox+W/2,oy-2,title,4.5,{'text-anchor':'middle','font-family':'DejaVu Sans, sans-serif'},g);
  blobs.forEach(b=>{
    const cx=ox+b[0]*W, cy=oy+b[1]*H, rx=b[2]*W, ry=b[3]*H;
    const col=vir(b[4]);
    for(let yy=cy-ry; yy<=cy+ry; yy+=2.4){
      for(let xx=cx-rx; xx<=cx+rx; xx+=2.4){
        const dx=(xx-cx)/rx, dy=(yy-cy)/ry;
        if(dx*dx+dy*dy<=1) mk('circle',{cx:xx.toFixed(1),cy:yy.toFixed(1),r:.75,fill:col,'fill-opacity':.75},g);
      }
    }
  });
  const cb=mk('rect',{x:ox+W+7,y:oy,width:6,height:H,fill:'url(#virgrad)'},g);
  
  
  tx(0,0,'Position Index',3.5,{'text-anchor':'middle','font-family':'DejaVu Sans, sans-serif',transform:'translate('+(ox+W+20)+','+(oy+H/2)+') rotate(-90)'},g);
}
const P5=3708;
drawTsne(tsneLladaQ,P5+176,133,'Q states','tsne-llada-q');
drawTsne(tsneLladaK,P5+314,133,'K states','tsne-llada-k');
drawTsne(tsneLladaQRope,P5+176,256,'Q states with RoPE','tsne-llada-q-rope');
drawTsne(tsneLladaKRope,P5+314,256,'K states with RoPE','tsne-llada-k-rope');
drawTsne(tsneLlamaQ,P5+482,133,'Q states','tsne-llama-q');
drawTsne(tsneLlamaK,P5+619,133,'K states','tsne-llama-k');
drawTsne(tsneLlamaQRope,P5+482,256,'Q states with RoPE','tsne-llama-q-rope');
drawTsne(tsneLlamaKRope,P5+619,256,'K states with RoPE','tsne-llama-k-rope');
</script>
</body></html>
